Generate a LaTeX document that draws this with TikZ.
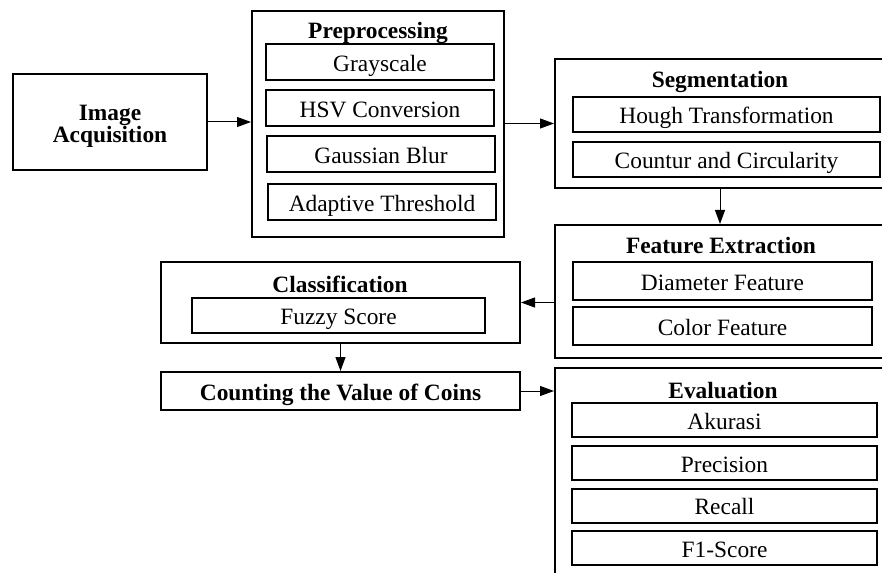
\documentclass[tikz,border=0pt]{standalone}
\usepackage{fontspec}
\setmainfont{Liberation Serif}
\usetikzlibrary{arrows.meta}
\tikzset{
  outerbox/.style={draw,line width=1pt,minimum width=#1},
  innerbox/.style={draw,line width=1pt,minimum width=#1,minimum height=18pt,inner sep=0pt,text height=11.5pt,text depth=2.3pt},
  titletext/.style={font=\fontsize{11.7}{12}\selectfont\bfseries},
  arr/.style={line width=.5pt,-{Triangle[length=7pt,width=5pt]}}
}
\begin{document}
\begin{tikzpicture}[x=.5pt,y=-.5pt,font=\fontsize{11.7}{12}\selectfont]
	   \useasboundingbox(0,0) rectangle (882,572);
	   \clip(0,0) rectangle (882,572);
	   % image acquisition
	   \node[outerbox=97pt,minimum height=48pt](acq) at (110,122){};
	   \node[titletext,align=center](acqt) at (110,126){Image\\[-1pt]Acquisition};
	   % preprocessing
	   \node[outerbox=126pt,minimum height=113pt](pre) at (378,124){};
	   \node[titletext](pret) at (378,32.5){Preprocessing};
	   \node[innerbox=114pt](gray) at (380,62){Grayscale};
	   \node[innerbox=114pt](hsv) at (380,108){HSV Conversion};
	   \node[innerbox=114pt](blur) at (381,154){Gaussian Blur};
	   \node[innerbox=114pt](thr) at (382,202){Adaptive Threshold};
	   % segmentation
	   \node[outerbox=165pt,minimum height=64.5pt](seg) at (720,123.5){};
	   \node[titletext](segt) at (720,81.5){Segmentation};
	   \node[innerbox=153.5pt,minimum height=17.5pt](hough) at (726.5,114.5){Hough Transformation};
	   \node[innerbox=153.5pt,minimum height=17.5pt](circ) at (726.5,159.5){Countur and Circularity};
	   % feature extraction
	   \node[outerbox=165pt,minimum height=66.5pt](feat) at (720,291.5){};
	   \node[titletext](featt) at (721,245.5){Feature Extraction};
	   \node[innerbox=149.5pt,minimum height=19pt](diam) at (722.5,281){Diameter Feature};
	   \node[innerbox=149.5pt,minimum height=19pt](col) at (722.5,326){Color Feature};
	   % classification
	   \node[outerbox=179.5pt,minimum height=40.5pt](cls) at (340.5,302.5){};
	   \node[titletext](clst) at (340,284.5){Classification};
	   \node[innerbox=146.5pt,minimum height=17.5pt](fuzzy) at (338.5,315.5){Fuzzy Score};
	   \node[outerbox=179.5pt,minimum height=19pt,inner sep=0pt,text height=11.5pt,text depth=2.3pt,titletext](cnt) at (340.5,391){Counting the Value of Coins};
	   % evaluation
	   \node[outerbox=165pt,minimum height=116pt](eva) at (720,484){};
	   \node[titletext](evat) at (723,390.5){Evaluation};
	   \node[innerbox=152.5pt,minimum height=17pt](acc) at (724.5,420){Akurasi};
	   \node[innerbox=152.5pt,minimum height=17pt](prec) at (724.5,463){Precision};
	   \node[innerbox=152.5pt,minimum height=17pt](rec) at (724.5,505.5){Recall};
	   \node[innerbox=152.5pt,minimum height=17pt](fone) at (724.5,548){F1-Score};
	   % arrows
	   \draw[arr](acq.east)--(acq.east -| pre.west);
	   \draw[arr](pre.east |- seg.west)--(seg.west);
	   \draw[arr](seg.south)--(feat.north);
	   \draw[arr](feat.west |- cls.east)--(cls.east);
	   \draw[arr](cls.south)--(cnt.north);
	   \draw[arr](cnt.east)--(cnt.east -| eva.west);
	\end{tikzpicture}
\end{document}
